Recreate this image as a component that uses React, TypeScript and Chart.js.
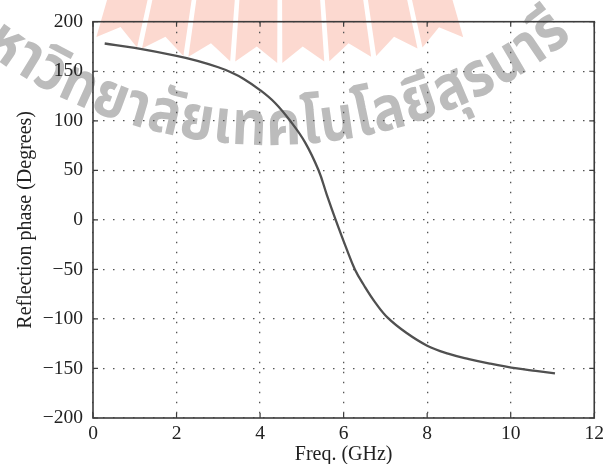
import React, { useEffect, useRef } from "react";
import { Chart, registerables } from "chart.js";
Chart.register(...registerables);

// Data
const freqGHz = [0.28, 1.0, 2.0, 2.5, 3.0, 3.3, 3.6, 4.0, 4.36, 4.72, 5.08, 5.4, 5.6, 5.81, 6.05, 6.27, 6.5, 6.75, 7.06, 7.5, 8.0, 8.5, 9.0, 9.5, 10.15, 10.6, 11.06];
const phaseDeg = [178, 173.5, 165.5, 160.5, 154, 149, 142.5, 131, 118, 100, 78, 50, 25, 0, -27, -50, -67, -83, -99, -114, -127, -135, -140.5, -145, -150, -152.5, -155];

const xTicks = [0, 2, 4, 6, 8, 10, 12];
const yTicks = [-200, -150, -100, -50, 0, 50, 100, 150, 200];

const xTitle = "Freq. (GHz)";
const yTitle = "Reflection phase (Degrees)";
const watermarkText = "มหาวิทยาลัยเทคโนโลยีสุรนารี";

const SERIF = '"Liberation Serif", "Times New Roman", serif';

const decorPlugin = {
  id: "decor",
  beforeDraw(chart: any) {
    const ctx = chart.ctx as CanvasRenderingContext2D;
    ctx.save();
    ctx.fillStyle = "#ffffff";
    ctx.fillRect(0, 0, chart.width, chart.height);

    // pale red fan (logo watermark)
    const cx = 280, cy = -600, R = 663, notch = 16;
    ctx.fillStyle = "#fcd9d0";
    const p = (a: number, r: number): [number, number] => [cx + r * Math.sin(a), cy + r * Math.cos(a)];
    const n = 8, a0deg = -16.3, step = 4.07, gap = 0.22;
    for (let i = 0; i < n; i++) {
      const a0 = ((a0deg + i * step + gap) * Math.PI) / 180;
      const a1 = ((a0deg + (i + 1) * step - gap) * Math.PI) / 180;
      const am = (a0 + a1) / 2;
      ctx.beginPath();
      ctx.moveTo(...p(a0, 0));
      ctx.lineTo(...p(a0, R));
      ctx.lineTo(...p(am, R - notch));
      ctx.lineTo(...p(a1, R));
      ctx.closePath();
      ctx.fill();
    }

    // grey arc text watermark
    const tcx = 270, tcy = -336, TR = 481;
    ctx.font = 'bold 62px "Noto Sans Thai", "Noto Sans", sans-serif';
    ctx.fillStyle = "#bcbcbc";
    ctx.textBaseline = "alphabetic";
    let clusters: string[] = [];
    try {
      const seg = new (Intl as any).Segmenter("th", { granularity: "grapheme" });
      clusters = Array.from(seg.segment(watermarkText), (s: any) => s.segment);
    } catch (e) {
      clusters = Array.from(watermarkText);
    }
    const widths = clusters.map((c) => ctx.measureText(c).width);
    const iA = 4, iB = 20;
    const phiA = Math.asin((72 - tcx) / TR);
    const phiB = Math.asin((540 - tcx) / TR);
    let span = widths[iA] / 2 + widths[iB] / 2;
    for (let i = iA + 1; i < iB; i++) span += widths[i];
    const k = ((phiB - phiA) * TR) / span;
    const centers: number[] = [];
    let cum = 0;
    widths.forEach((w) => {
      centers.push(cum + (w * k) / 2);
      cum += w * k;
    });
    const offset = phiA - centers[iA] / TR;
    clusters.forEach((c, i) => {
      const phi = offset + centers[i] / TR;
      const x = tcx + TR * Math.sin(phi);
      const y = tcy + TR * Math.cos(phi);
      ctx.save();
      ctx.translate(x, y);
      ctx.rotate(-phi);
      ctx.scale(Math.min(1, k * 0.97), 1);
      ctx.fillText(c, -widths[i] / 2, 0);
      ctx.restore();
    });
    ctx.restore();
  },
  afterDraw(chart: any) {
    const ctx = chart.ctx as CanvasRenderingContext2D;
    const { left, right, top, bottom } = chart.chartArea;
    const xs = chart.scales.x;
    const ys = chart.scales.y;
    ctx.save();
    ctx.strokeStyle = "#3c3c3c";
    ctx.lineWidth = 1.2;
    const t = 5;
    ctx.beginPath();
    yTicks.forEach((v) => {
      const y = ys.getPixelForValue(v);
      ctx.moveTo(left, y);
      ctx.lineTo(left + t, y);
      ctx.moveTo(right, y);
      ctx.lineTo(right - t, y);
    });
    xTicks.forEach((v) => {
      const x = xs.getPixelForValue(v);
      ctx.moveTo(x, bottom);
      ctx.lineTo(x, bottom - t);
      ctx.moveTo(x, top);
      ctx.lineTo(x, top + t);
    });
    ctx.stroke();
    ctx.lineWidth = 1.6;
    ctx.strokeRect(left, top, right - left, bottom - top);
    ctx.restore();
  },
};

export default function App() {
  const ref = useRef<HTMLCanvasElement | null>(null);
  useEffect(() => {
    if (!ref.current) return;
    const chart = new Chart(ref.current, {
      type: "line",
      data: {
        datasets: [
          {
            data: freqGHz.map((f, i) => ({ x: f, y: phaseDeg[i] })),
            borderColor: "#505050",
            borderWidth: 2.3,
            pointRadius: 0,
            tension: 0.4,
            fill: false,
          },
        ],
      },
      options: {
        animation: false,
        responsive: false,
        devicePixelRatio: 1,
        layout: { padding: { top: 19, right: 10, left: 0, bottom: 0 } },
        plugins: { legend: { display: false }, tooltip: { enabled: false } },
        scales: {
          x: {
            type: "linear",
            min: 0,
            max: 12,
            afterBuildTicks: (s: any) => {
              s.ticks = xTicks.map((v) => ({ value: v }));
            },
            afterFit: (s: any) => {
              s.height = 46;
            },
            ticks: { color: "#222", font: { family: SERIF, size: 19.5 }, padding: 4, maxRotation: 0 },
            grid: { color: "#555", lineWidth: 1.3, drawTicks: false },
            border: { display: false, dash: [1.5, 8.5] },
            title: { display: true, text: xTitle, color: "#222", font: { family: SERIF, size: 20, lineHeight: 0.9 }, padding: { top: 0, bottom: 0 } },
          },
          y: {
            type: "linear",
            min: -200,
            max: 200,
            afterBuildTicks: (s: any) => {
              s.ticks = yTicks.map((v) => ({ value: v }));
            },
            afterFit: (s: any) => {
              s.width = 93;
            },
            ticks: {
              color: "#222",
              font: { family: SERIF, size: 19.5 },
              padding: 10,
              callback: (v: any) => String(v).replace("-", "\u2212"),
            },
            grid: { color: "#555", lineWidth: 1.3, drawTicks: false },
            border: { display: false, dash: [1.5, 8.5] },
            title: { display: true, text: yTitle, color: "#222", font: { family: SERIF, size: 20 }, padding: { top: 14, bottom: 0 } },
          },
        },
      },
      plugins: [decorPlugin],
    } as any);
    return () => chart.destroy();
  }, []);
  return (
    <div style={{ position: "absolute", left: 0, top: 0, width: 608, height: 464 }}>
      <canvas ref={ref} width={608} height={464} style={{ width: 608, height: 464 }} />
    </div>
  );
}
